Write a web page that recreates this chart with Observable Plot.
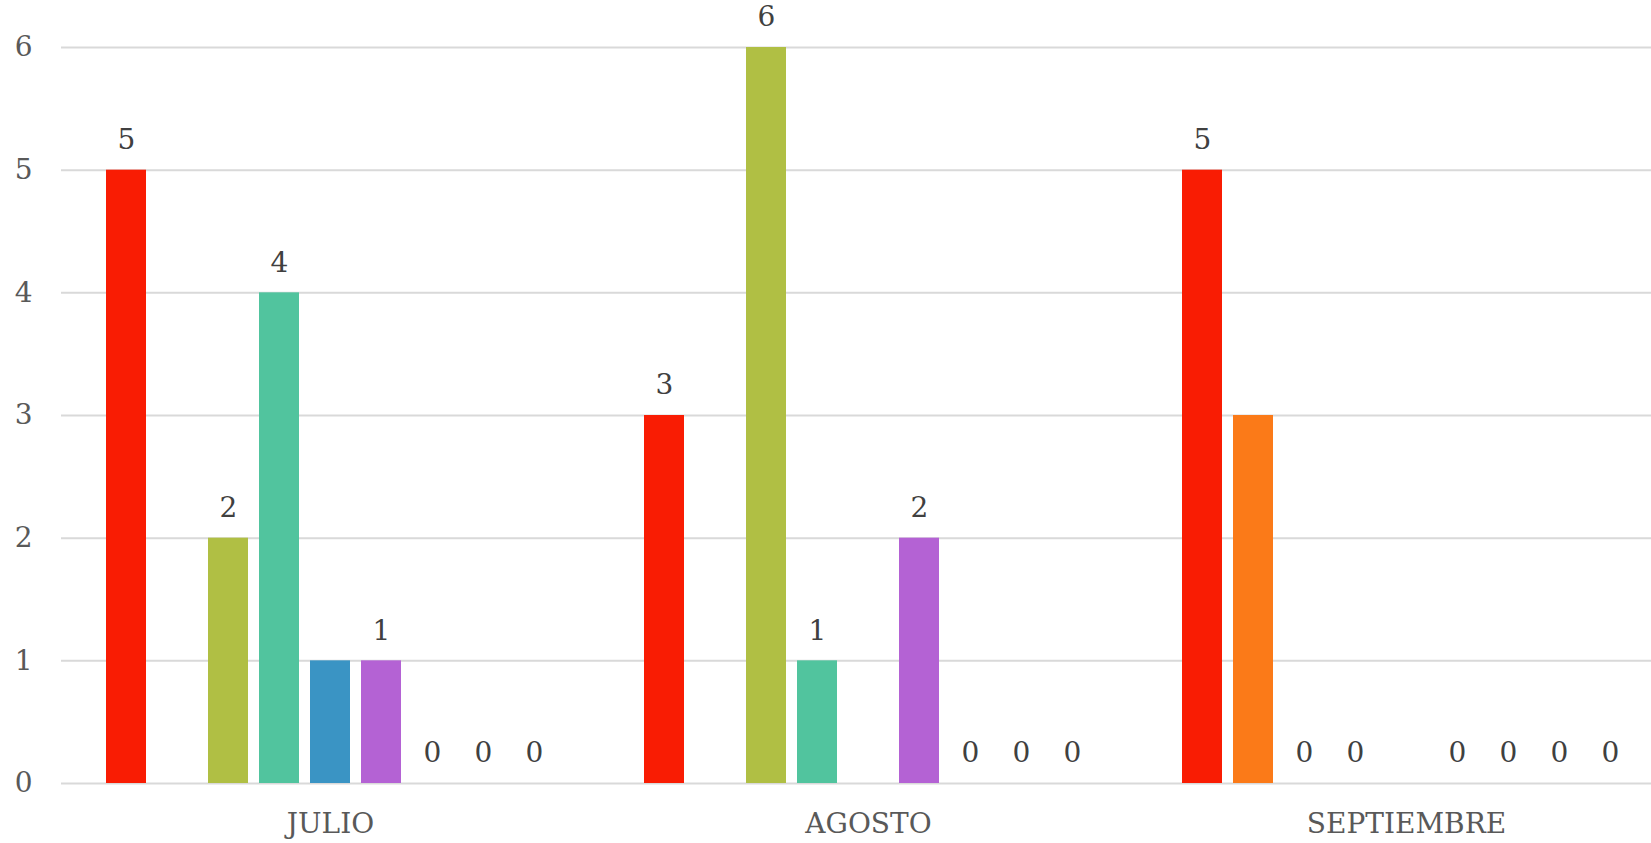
<!DOCTYPE html>
<html><head><meta charset="utf-8">
<script src="https://cdn.jsdelivr.net/npm/d3@7"></script>
<script src="https://cdn.jsdelivr.net/npm/@observablehq/plot@0.6"></script>
<style>
html,body{margin:0;padding:0;background:#fff;overflow:hidden;}
#chart{width:1651px;height:843px;overflow:hidden;}
#chart svg{max-width:none !important;}
</style>
</head><body><div id="chart"></div>
<script>
const months = ["JULIO", "AGOSTO", "SEPTIEMBRE"];
const seriesNames = ["Serie 1", "Serie 2", "Serie 3", "Serie 4", "Serie 5", "Serie 6", "Serie 7", "Serie 8", "Serie 9"];
const seriesColors = ["#f91c03", "#fb7a18", "#b0bf44", "#51c49e", "#3a94c4", "#b462d4", "#e8c31f", "#7f7f7f", "#2a6fb0"];
const showLabels = [true, false, true, true, false, true, true, true, true];
const serie1 = [5, 3, 5];
const serie2 = [0, 0, 3];
const serie3 = [2, 6, 0];
const serie4 = [4, 1, 0];
const serie5 = [1, 0, 0];
const serie6 = [1, 2, 0];
const serie7 = [0, 0, 0];
const serie8 = [0, 0, 0];
const serie9 = [0, 0, 0];
const yTicks = [0, 1, 2, 3, 4, 5, 6];

const allSeries = [serie1, serie2, serie3, serie4, serie5, serie6, serie7, serie8, serie9];
const data = months.flatMap((m, i) => seriesNames.map((s, j) => ({
  month: m, series: s, value: allSeries[j][i], label: showLabels[j]
})));

const font = "DejaVu Serif";
const chart = Plot.plot({
  width: 1676,
  height: 843,
  marginLeft: 60,
  marginRight: 0,
  marginTop: 47,
  marginBottom: 60,
  style: {color: "#595959", fontFamily: font, background: "#fff"},
  fx: {domain: months, paddingInner: 0, paddingOuter: 0, label: null, axis: null},
  x: {domain: seriesNames, paddingInner: 0.213, paddingOuter: 0.862, axis: null},
  y: {domain: [0, 6], axis: null},
  color: {domain: seriesNames, range: seriesColors},
  marks: [
    Plot.gridY(yTicks, {stroke: "#d9d9d9", strokeOpacity: 1, strokeWidth: 2}),
    Plot.barY(data, {fx: "month", x: "series", y: "value", fill: "series"}),
    Plot.text(data.filter(d => d.label), {fx: "month", x: "series", y: "value", text: d => String(d.value), dy: -30, fontSize: 28, fill: "#404040", fontFamily: font}),
    Plot.axisY(yTicks, {tickSize: 0, tickPadding: 29, fontSize: 28, fontFamily: font, label: null, tickFormat: d => String(d)}),
    Plot.axisFx({anchor: "bottom", tickSize: 0, tickPadding: 30, fontSize: 28, fontFamily: font, label: null})
  ]
});
document.getElementById("chart").append(chart);
</script>
</body></html>
